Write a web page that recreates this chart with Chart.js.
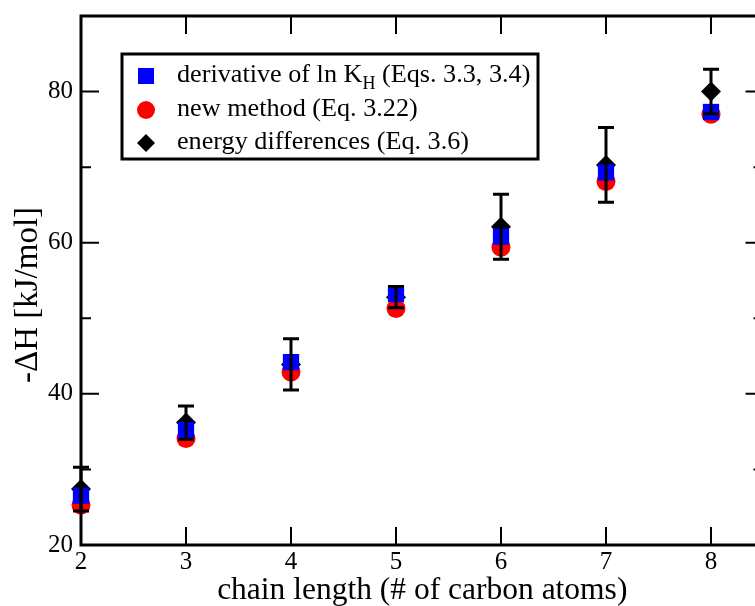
<!DOCTYPE html>
<html>
<head>
<meta charset="utf-8">
<script src="https://cdn.jsdelivr.net/npm/chart.js@4/dist/chart.umd.min.js"></script>
<style>
  html, body { margin: 0; padding: 0; background: #fff; overflow: hidden; }
  #wrap { width: 775px; height: 606px; position: relative; }
</style>
</head>
<body>
<div id="wrap"><canvas id="c"></canvas></div>
<script>
// Enthalpy of adsorption vs. alkane chain length
const chainLength    = [2, 3, 4, 5, 6, 7, 8];
const derivLnKH      = [26.5, 35.2, 44.2, 53.2, 60.8, 69.3, 77.3];
const newMethod      = [25.3, 34.1, 42.9, 51.3, 59.4, 68.1, 77.0];
const energyDiff     = [27.4, 36.2, 43.9, 52.8, 62.1, 70.3, 80.0];
const energyDiffErr  = [2.9, 2.2, 3.4, 1.4, 4.3, 4.95, 2.95];

const xTickValues    = [2, 3, 4, 5, 6, 7, 8];
const yTickValues    = [20, 40, 60, 80];
const yMinorValues   = [30, 50, 70];

const xTitle = 'chain length (# of carbon atoms)';
const yTitle = '-\u0394H [kJ/mol]';

const SERIF = '"Liberation Serif", "DejaVu Serif", serif';

const toPoints = ys => chainLength.map((x, i) => ({ x: x, y: ys[i] }));

// Error bars for the energy-difference series
const errorBars = {
  id: 'errorBars',
  afterDatasetsDraw(chart) {
    const { ctx, scales: { x, y } } = chart;
    ctx.save();
    ctx.strokeStyle = '#000';
    ctx.lineWidth = 3;
    ctx.lineCap = 'butt';
    const cap = 8;
    chainLength.forEach((cx, i) => {
      const px = x.getPixelForValue(cx);
      const top = y.getPixelForValue(energyDiff[i] + energyDiffErr[i]);
      const bot = y.getPixelForValue(energyDiff[i] - energyDiffErr[i]);
      ctx.beginPath();
      ctx.moveTo(px, top); ctx.lineTo(px, bot);
      ctx.moveTo(px - cap, top); ctx.lineTo(px + cap, top);
      ctx.moveTo(px - cap, bot); ctx.lineTo(px + cap, bot);
      ctx.stroke();
    });
    ctx.restore();
  }
};

// Box frame with inward-pointing ticks on all four sides, plus the y title
const frameTicks = {
  id: 'frameTicks',
  afterDatasetsDraw(chart) {
    const { ctx, chartArea: a, scales: { x, y } } = chart;
    ctx.save();
    ctx.strokeStyle = '#000';
    ctx.lineWidth = 2;
    ctx.beginPath();
    xTickValues.forEach(v => {
      const px = x.getPixelForValue(v);
      ctx.moveTo(px, a.bottom); ctx.lineTo(px, a.bottom - 18);
      ctx.moveTo(px, a.top); ctx.lineTo(px, a.top + 18);
    });
    yTickValues.forEach(v => {
      const py = y.getPixelForValue(v);
      ctx.moveTo(a.left, py); ctx.lineTo(a.left + 18, py);
      ctx.moveTo(a.right, py); ctx.lineTo(a.right - 18, py);
    });
    yMinorValues.forEach(v => {
      const py = y.getPixelForValue(v);
      ctx.moveTo(a.left, py); ctx.lineTo(a.left + 10, py);
      ctx.moveTo(a.right, py); ctx.lineTo(a.right - 10, py);
    });
    ctx.stroke();
    ctx.lineWidth = 3;
    ctx.strokeRect(a.left, a.top, a.right - a.left, a.bottom - a.top);

    // rotated y-axis title
    ctx.translate(28, 295);
    ctx.rotate(-Math.PI / 2);
    ctx.fillStyle = '#000';
    ctx.font = '33px ' + SERIF;
    ctx.textAlign = 'center';
    ctx.textBaseline = 'middle';
    ctx.fillText(yTitle, 0, 0);
    ctx.restore();
  }
};

// Boxed legend with a subscripted label
const boxLegend = {
  id: 'boxLegend',
  afterDraw(chart) {
    const ctx = chart.ctx;
    const bx = 122, by = 54, bw = 416, bh = 105;
    ctx.save();
    ctx.fillStyle = '#fff';
    ctx.fillRect(bx, by, bw, bh);
    ctx.strokeStyle = '#000';
    ctx.lineWidth = 3;
    ctx.strokeRect(bx, by, bw, bh);

    const sx = 146, tx = 177;
    const rows = [76, 110, 143];
    // symbols
    ctx.fillStyle = '#0000ff';
    ctx.fillRect(sx - 8, rows[0] - 8, 16, 16);
    ctx.fillStyle = '#ff0000';
    ctx.beginPath(); ctx.arc(sx, rows[1], 9, 0, Math.PI * 2); ctx.fill();
    ctx.fillStyle = '#000';
    ctx.beginPath();
    ctx.moveTo(sx - 9, rows[2]); ctx.lineTo(sx, rows[2] - 9);
    ctx.lineTo(sx + 9, rows[2]); ctx.lineTo(sx, rows[2] + 9);
    ctx.closePath(); ctx.fill();

    // labels
    ctx.fillStyle = '#000';
    ctx.textBaseline = 'alphabetic';
    ctx.textAlign = 'left';
    const big = '26.2px ' + SERIF, small = '18px ' + SERIF;
    const base = [82, 116, 149];
    ctx.font = big;
    let t = 'derivative of ln K';
    ctx.fillText(t, tx, base[0]);
    let w = ctx.measureText(t).width;
    ctx.font = small;
    ctx.fillText('H', tx + w, base[0] + 7);
    w += ctx.measureText('H').width;
    ctx.font = big;
    ctx.fillText(' (Eqs. 3.3, 3.4)', tx + w, base[0]);
    ctx.fillText('new method (Eq. 3.22)', tx, base[1]);
    ctx.fillText('energy differences (Eq. 3.6)', tx, base[2]);
    ctx.restore();
  }
};

new Chart(document.getElementById('c'), {
  type: 'scatter',
  data: {
    datasets: [
      {
        label: 'derivative of ln KH (Eqs. 3.3, 3.4)',
        data: toPoints(derivLnKH),
        pointStyle: 'rect', pointRadius: 11.5,
        backgroundColor: '#0000ff', borderWidth: 0, clip: false
      },
      {
        label: 'new method (Eq. 3.22)',
        data: toPoints(newMethod),
        pointStyle: 'circle', pointRadius: 9.5,
        backgroundColor: '#ff0000', borderWidth: 0, clip: false
      },
      {
        label: 'energy differences (Eq. 3.6)',
        data: toPoints(energyDiff),
        pointStyle: 'rectRot', pointRadius: 10,
        backgroundColor: '#000000', borderWidth: 0, clip: false
      }
    ]
  },
  options: {
    responsive: true,
    maintainAspectRatio: false,
    animation: false,
    events: [],
    layout: { padding: { top: 16, right: 11.5, left: 0, bottom: 0 } },
    plugins: { legend: { display: false }, tooltip: { enabled: false } },
    scales: {
      x: {
        type: 'linear', min: 2, max: 8.5,
        afterBuildTicks: s => { s.ticks = xTickValues.map(v => ({ value: v })); },
        afterFit: s => { s.height = 61; s.paddingLeft = 0; s.paddingRight = 0; },
        grid: { display: false, drawTicks: false },
        border: { display: false },
        ticks: { color: '#000', padding: 2, maxRotation: 0, font: { family: SERIF, size: 25 } },
        title: { display: true, text: xTitle, color: '#000', padding: { top: 0, bottom: 0 },
                 font: { family: SERIF, size: 31.5, lineHeight: 1.0 } }
      },
      y: {
        type: 'linear', min: 20, max: 90,
        afterBuildTicks: s => { s.ticks = yTickValues.map(v => ({ value: v })); },
        afterFit: s => { s.width = 81; s.paddingTop = 0; s.paddingBottom = 0; },
        grid: { display: false, drawTicks: false },
        border: { display: false },
        ticks: { color: '#000', padding: 8, font: { family: SERIF, size: 25 } },
        title: { display: false }
      }
    }
  },
  plugins: [errorBars, frameTicks, boxLegend]
});
</script>
</body>
</html>
